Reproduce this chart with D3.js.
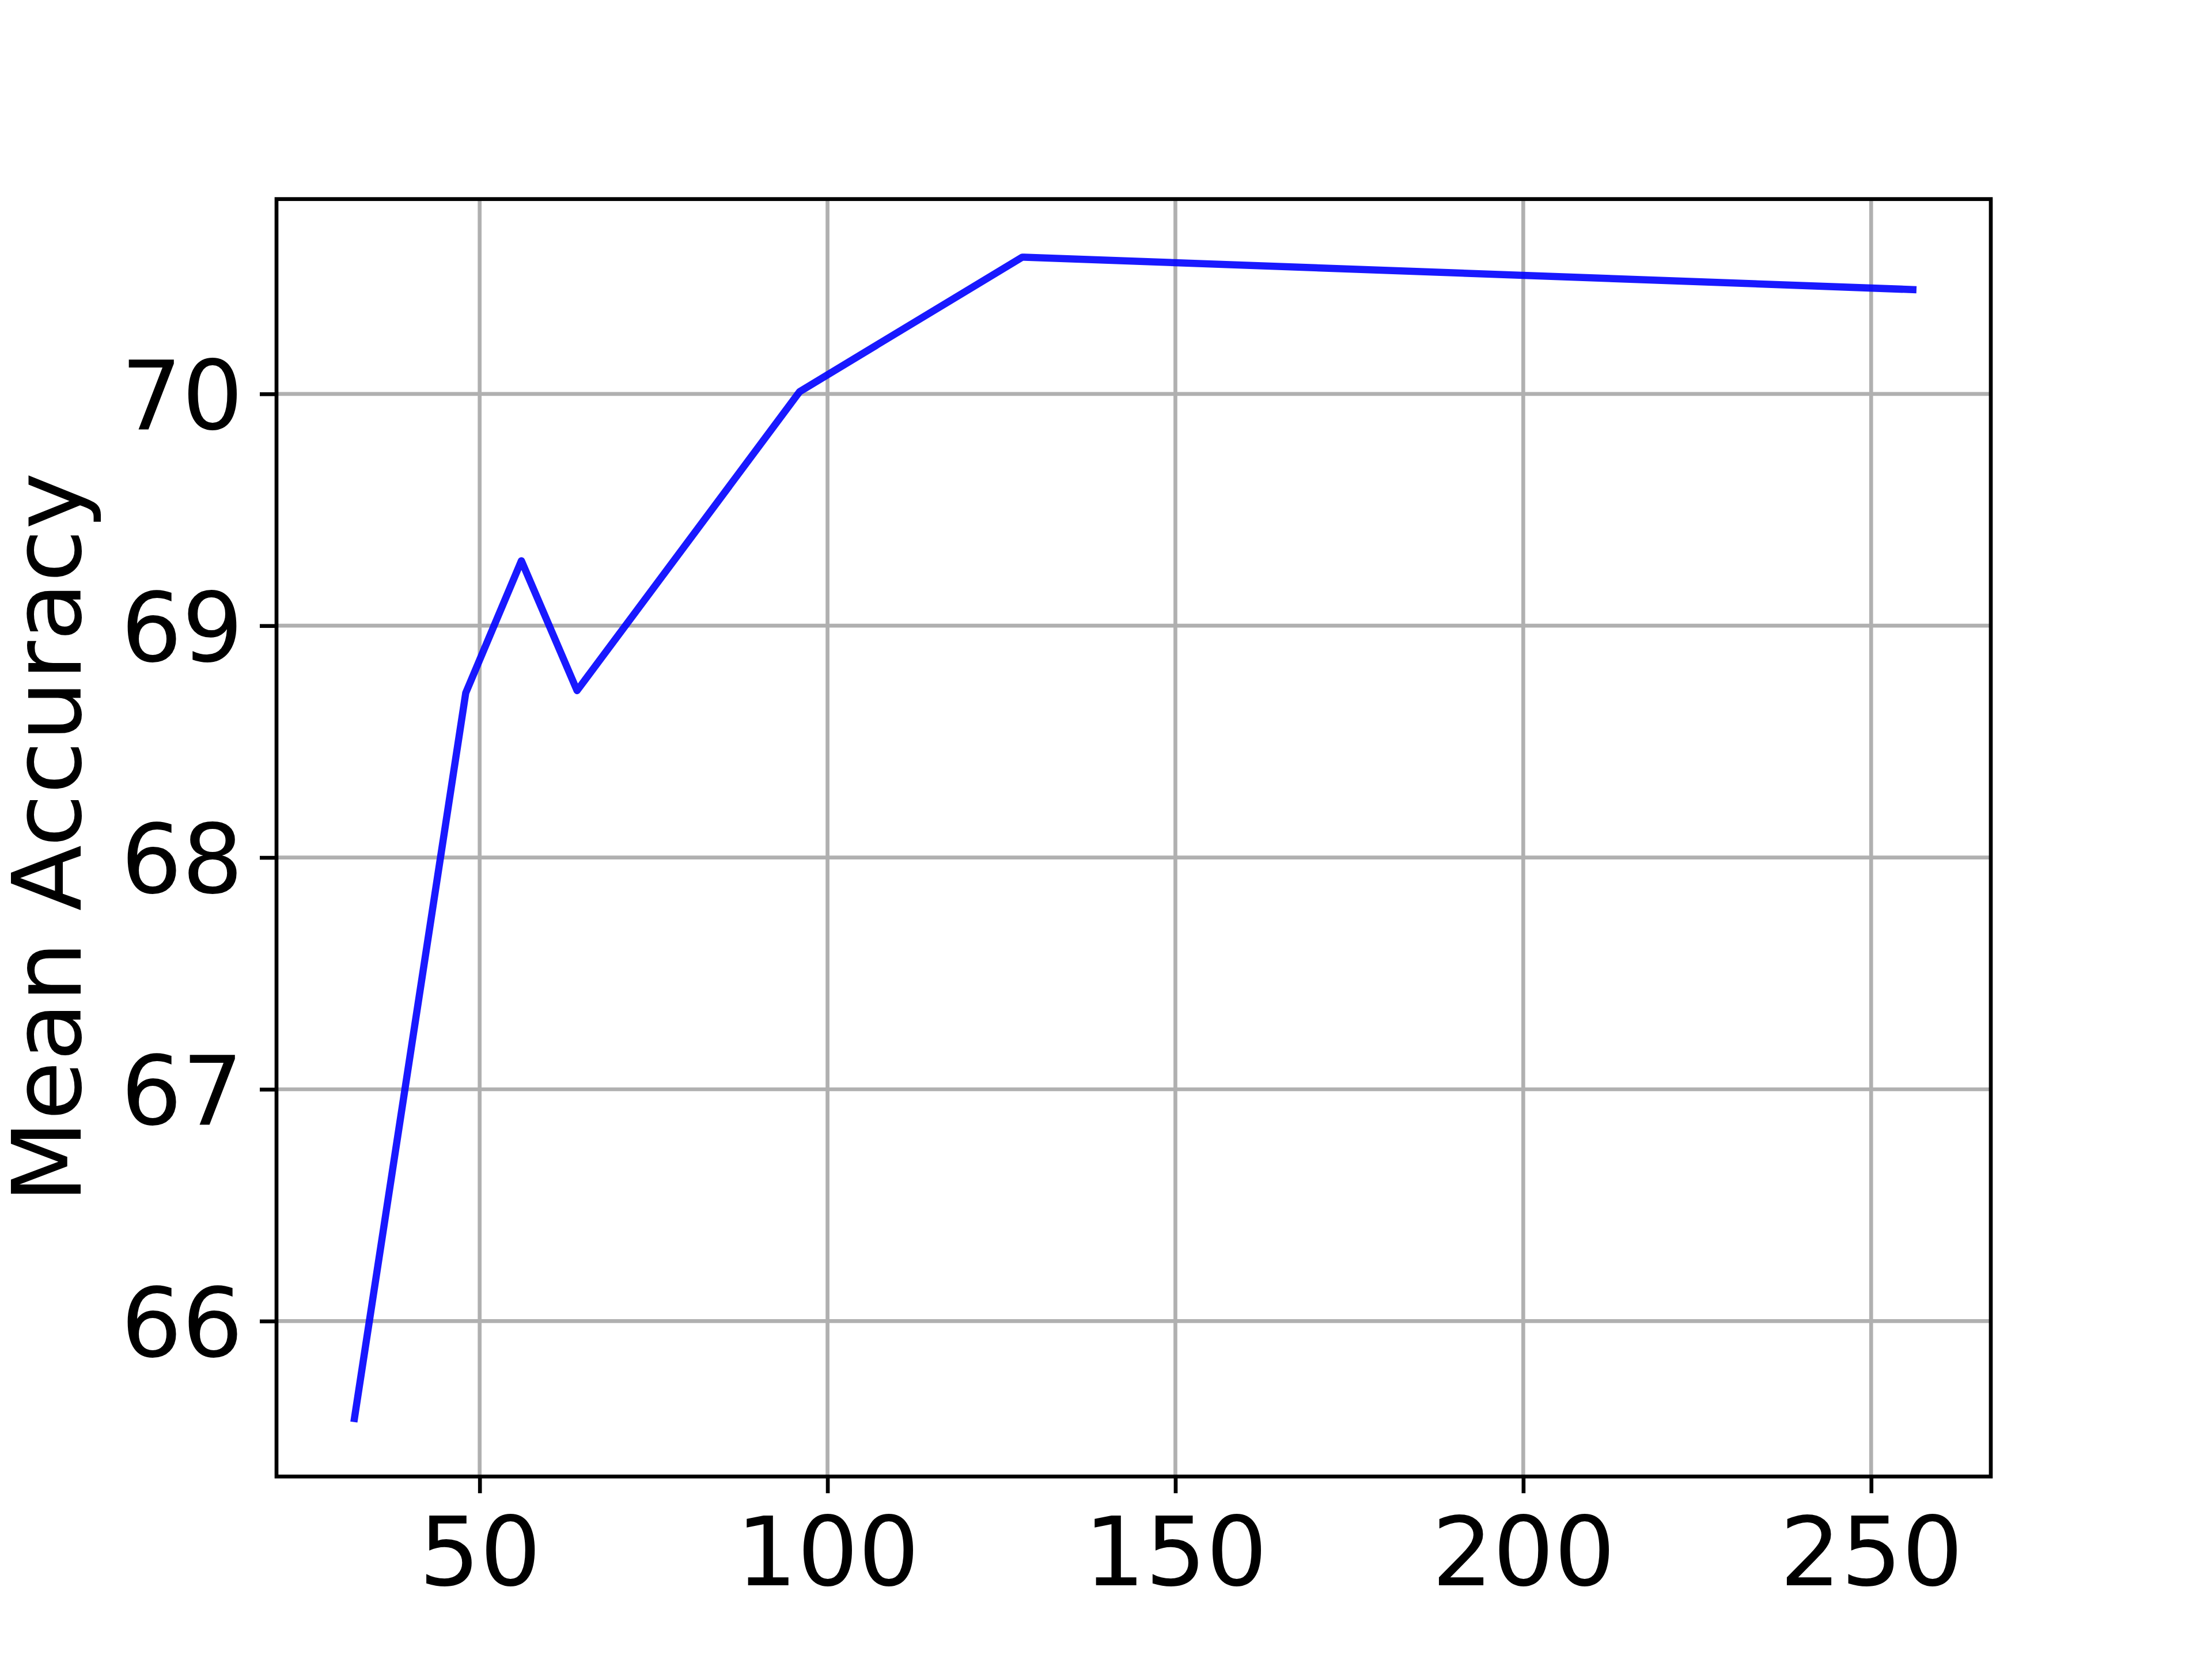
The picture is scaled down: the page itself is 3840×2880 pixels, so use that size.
<!DOCTYPE html>
<html>
<head>
<meta charset="utf-8">
<script src="https://cdn.jsdelivr.net/npm/d3@7"></script>
<style>
  body { margin: 0; background: #fff; }
  text { font-family: "DejaVu Sans", sans-serif; }
</style>
</head>
<body>
<div id="chart"></div>
<script>
"use strict";

var width = 3840;
var height = 2880;
var plotLeft = 480, plotRight = 3456, plotTop = 345.6, plotBottom = 2563.2;
var fontSize = 166.7;

// data
var sizes = [32, 48, 56, 64, 96, 128, 256];
var accuracy = [65.58, 68.71, 69.28, 68.72, 70.01, 70.59, 70.45];
var xTicks = [50, 100, 150, 200, 250];
var yTicks = [66, 67, 68, 69, 70];
var yLabel = "Mean Accuracy";

// matplotlib style 5% margins
var xPad = (d3.max(sizes) - d3.min(sizes)) * 0.05;
var yPad = (d3.max(accuracy) - d3.min(accuracy)) * 0.05;

var xScale = d3.scaleLinear()
               .domain([d3.min(sizes) - xPad, d3.max(sizes) + xPad])
               .range([plotLeft, plotRight]);

var yScale = d3.scaleLinear()
               .domain([d3.min(accuracy) - yPad, d3.max(accuracy) + yPad])
               .range([plotBottom, plotTop]);

var svg = d3.select("#chart")
            .append("svg")
            .attr("width", width)
            .attr("height", height);

svg.append("rect")
   .attr("width", width)
   .attr("height", height)
   .attr("fill", "#ffffff");

// grid
svg.append("g")
   .selectAll("line")
   .data(xTicks)
   .enter()
   .append("line")
   .attr("x1", function(d) { return xScale(d); })
   .attr("x2", function(d) { return xScale(d); })
   .attr("y1", plotTop)
   .attr("y2", plotBottom)
   .attr("stroke", "#b0b0b0")
   .attr("stroke-width", 6.67);

svg.append("g")
   .selectAll("line")
   .data(yTicks)
   .enter()
   .append("line")
   .attr("x1", plotLeft)
   .attr("x2", plotRight)
   .attr("y1", function(d) { return yScale(d); })
   .attr("y2", function(d) { return yScale(d); })
   .attr("stroke", "#b0b0b0")
   .attr("stroke-width", 6.67);

// the curve
var line = d3.line()
             .x(function(d, i) { return xScale(sizes[i]); })
             .y(function(d) { return yScale(d); });

svg.append("path")
   .datum(accuracy)
   .attr("d", line)
   .attr("fill", "none")
   .attr("stroke", "#0000ff")
   .attr("stroke-opacity", 0.9)
   .attr("stroke-width", 12.5)
   .attr("stroke-linecap", "square")
   .attr("stroke-linejoin", "round");

// axes
var xAxis = d3.axisBottom(xScale)
              .tickValues(xTicks)
              .tickFormat(d3.format("d"))
              .tickSize(29)
              .tickPadding(41)
              .tickSizeOuter(0);

var yAxis = d3.axisLeft(yScale)
              .tickValues(yTicks)
              .tickFormat(d3.format("d"))
              .tickSize(29)
              .tickPadding(29)
              .tickSizeOuter(0);

var gx = svg.append("g")
            .attr("transform", "translate(0," + plotBottom + ")")
            .call(xAxis);

var gy = svg.append("g")
            .attr("transform", "translate(" + plotLeft + ",0)")
            .call(yAxis);

[gx, gy].forEach(function(g) {
   g.select(".domain").remove();
   g.selectAll(".tick line").attr("stroke", "#000").attr("stroke-width", 6.67);
   g.selectAll(".tick text")
    .attr("fill", "#000")
    .style("font-family", "'DejaVu Sans', sans-serif")
    .style("font-size", fontSize + "px");
});
gy.selectAll(".tick text").attr("dy", "0.365em");

// spines
svg.append("rect")
   .attr("x", plotLeft)
   .attr("y", plotTop)
   .attr("width", plotRight - plotLeft)
   .attr("height", plotBottom - plotTop)
   .attr("fill", "none")
   .attr("stroke", "#000")
   .attr("stroke-width", 6.67)
   .attr("stroke-linejoin", "miter")
   .attr("stroke-linecap", "square");

// y label
svg.append("text")
   .attr("transform", "translate(140," + ((plotTop + plotBottom) / 2) + ") rotate(-90)")
   .attr("text-anchor", "middle")
   .style("font-size", fontSize + "px")
   .attr("fill", "#000")
   .text(yLabel);
</script>
</body>
</html>
